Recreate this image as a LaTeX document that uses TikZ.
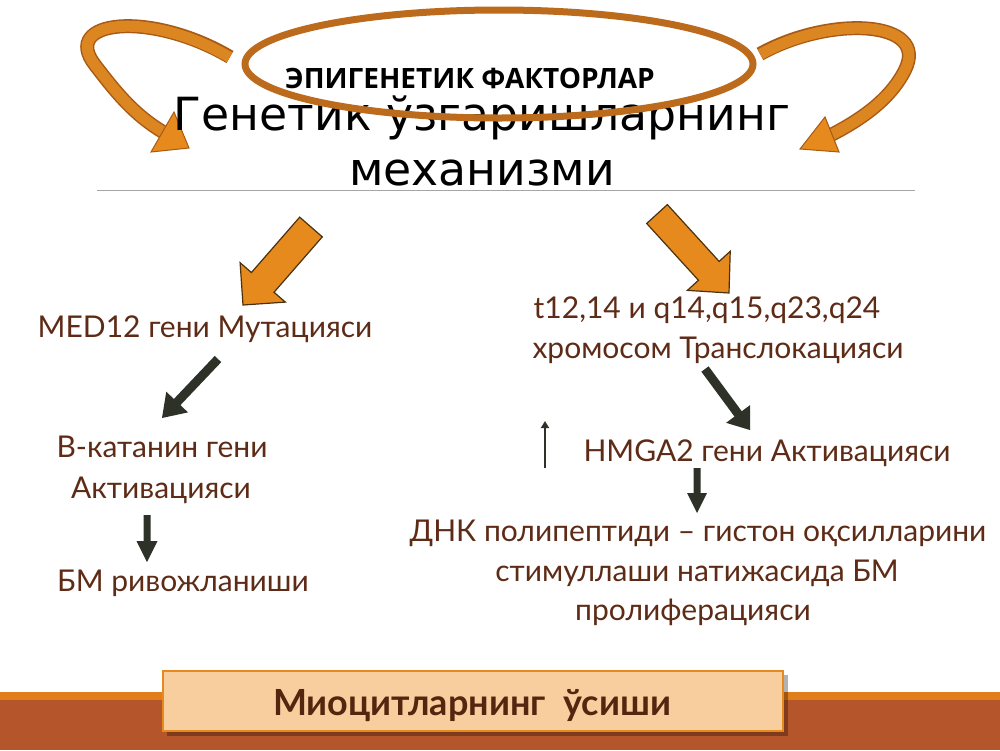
\documentclass[tikz,border=0pt]{standalone}
\usepackage{fontspec}
\setmainfont{Lato}
\newfontfamily\titlefont{DejaVu Sans}
\newfontfamily\epifont{Open Sans}
\usetikzlibrary{calc,arrows.meta}
\definecolor{txt}{HTML}{5E2B17}
\definecolor{boxtxt}{HTML}{55260F}
\definecolor{org}{HTML}{E68A1E}
\definecolor{orgline}{HTML}{4A3210}
\definecolor{ellc}{HTML}{BC6A1C}
\definecolor{ribdark}{HTML}{A85A15}
\definecolor{riblight}{HTML}{DC8622}
\definecolor{rust}{HTML}{B5552B}
\definecolor{stripe}{HTML}{E07E1B}
\definecolor{peach}{HTML}{F8CE9E}
\definecolor{darkarrow}{HTML}{2E3128}
% block arrow: tail, tip, shaft half width, head half width, head length, style
\newcommand\blockarr[6]{%
  \path[#6] let \p1=($(#2)-(#1)$), \n1={atan2(\y1,\x1)}, \n2={veclen(\x1,\y1)} in
    [shift={(#2)}, rotate=\n1]
    (0,0) -- (-#5,#4) -- (-#5,#3) -- ({-\n2},#3) -- ({-\n2},-#3) -- (-#5,-#3) -- (-#5,-#4) -- cycle;}
\tikzset{
  body/.style={font=\fontsize{30}{36}\selectfont, text=txt, anchor=base, inner sep=0},
  ttl/.style={font=\titlefont\fontsize{45.7}{52}\selectfont, text=black, anchor=base, inner sep=0},
  orangearr/.style={fill=org, draw=orgline, line width=1.2, line join=miter},
  darkarr/.style={fill=darkarrow},
  ribbonout/.style={draw=ribdark, line width=14},
  ribbonin/.style={draw=riblight, line width=11},
  ribhead/.style={fill=org, draw=ribdark, line width=1, line join=miter},
}
\begin{document}
\begin{tikzpicture}[x=1pt,y=-1pt]
\useasboundingbox (0,0) rectangle (1000,750);
\fill[white] (0,0) rectangle (1000,750);
% bottom band
\fill[stripe] (0,692) rectangle (1000,700);
\fill[rust] (0,700) rectangle (1000,750);
% curved arrows
\draw[ribbonout] (230,57) .. controls (150,10) and (60,20) .. (95,65) .. controls (115,91) and (133,114) .. (163,132);
\draw[ribbonin] (229.5,57.3) .. controls (150,10) and (60,20) .. (95,65) .. controls (115,91) and (133,114) .. (163,132);
\path[ribhead] (174,112) -- (189,148) -- (151,152) -- cycle;
\draw[ribbonout] (760,54) .. controls (830,15) and (930,20) .. (905,70) .. controls (890,100) and (860,120) .. (831,135);
\draw[ribbonin] (760.5,54.3) .. controls (830,15) and (930,20) .. (905,70) .. controls (890,100) and (860,120) .. (831,135);
\path[ribhead] (825,117) -- (800,149) -- (839,152) -- cycle;
% title
\node[ttl] (t1) at (482,130) {Генетик ўзгаришларнинг};
\node[ttl] (t2) at (482,185) {механизми};
\draw[black!35, line width=1] (97,190) -- (915,190);
% ellipse
\draw[ellc, line width=7] (499,64) ellipse [x radius=254, y radius=54];
\node[font=\epifont\bfseries\fontsize{28}{32}\selectfont, anchor=base, inner sep=0] (epi) at (470,88) {ЭПИГЕНЕТИК ФАКТОРЛАР};
% texts
\node[body] (med) at (205,337) {MED12 гени Мутацияси};
\node[body] (tr1) at (707,318) {t12,14 и q14,q15,q23,q24};
\node[body] (tr2) at (718,358) {хромосом Транслокацияси};
\node[body] (bk1) at (162,457) {В-катанин гени};
\node[body] (bk2) at (161,498) {Активацияси};
\node[body] (bm) at (183,591) {БМ ривожланиши};
\node[body] (hm) at (767,461) {HMGA2 гени Активацияси};
\node[body] (dn1) at (698,541) {ДНК полипептиди – гистон оқсилларини};
\node[body] (dn2) at (697,581) {стимуллаши натижасида БМ};
\node[body] (dn3) at (693,620) {пролиферацияси};
% arrow coordinates
\coordinate (oa1) at (311,227); \coordinate (oa2) at (243,305);
\coordinate (ob1) at (657,214); \coordinate (ob2) at (729,293);
\coordinate (da1) at (218,359); \coordinate (da2) at (162,418);
\coordinate (db1) at (705,369); \coordinate (db2) at (750,430);
\coordinate (dc1) at (147,515); \coordinate (dc2) at (147,562);
\coordinate (dd1) at (697,468); \coordinate (dd2) at (697,513);
\coordinate (up1) at (545,468); \coordinate (up2) at (545,421);
\blockarr{oa1}{oa2}{15}{30}{30}{orangearr}
\blockarr{ob1}{ob2}{14}{29}{30}{orangearr}
\blockarr{da1}{da2}{4.5}{15}{22}{darkarr}
\blockarr{db1}{db2}{4.5}{15}{20}{darkarr}
\blockarr{dc1}{dc2}{3.5}{10.5}{21}{darkarr}
\blockarr{dd1}{dd2}{3.5}{10}{20}{darkarr}
\draw[darkarrow, line width=2.5, -{Triangle[length=7, width=8]}] (up1) -- (up2);
% bottom box
\fill[black, opacity=0.3] (167,675) rectangle (788,736);
\node[draw=org, line width=2, fill=peach, minimum width=620pt, minimum height=60pt, inner sep=0] (box) at (473,701) {};
\node[font=\bfseries\fontsize{36}{42}\selectfont, text=boxtxt, anchor=base, inner sep=0] (boxt) at (472,715) {Миоцитларнинг\ \ ўсиши};
\end{tikzpicture}
\end{document}
